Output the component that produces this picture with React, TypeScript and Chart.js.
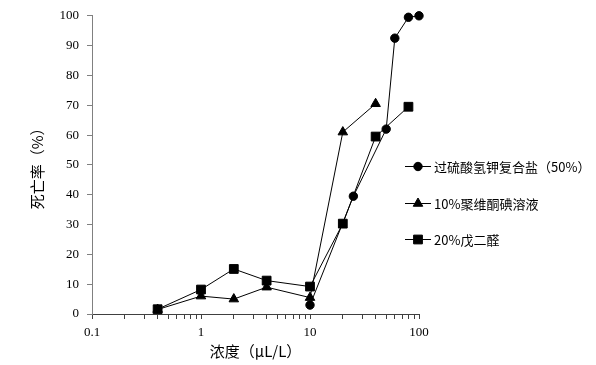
import { useEffect, useRef } from 'react';
import { Chart, registerables } from 'chart.js';

Chart.register(...registerables);

const seriesNames = ['过硫酸氢钾复合盐（50%）', '10%聚维酮碘溶液', '20%戊二醛'];
const circleX = [10, 25, 50, 60, 80, 100];
const circleY = [3, 39.5, 62, 92.5, 99.5, 100];
const triangleX = [0.4, 1, 2, 4, 10, 20, 40];
const triangleY = [1.5, 6, 5, 9, 5.5, 61, 70.5];
const squareX = [0.4, 1, 2, 4, 10, 20, 40, 80];
const squareY = [1.6, 8.2, 15.1, 11.2, 9.2, 30.3, 59.5, 69.5];
const xMajorTicks = [0.1, 1, 10, 100];
const yTicks = [0, 10, 20, 30, 40, 50, 60, 70, 80, 90, 100];
const xTitle = '浓度（μL/L）';
const yTitle = '死亡率（%）';

const toPoints = (xs: number[], ys: number[]) => xs.map((x, i) => ({ x, y: ys[i] }));

function drawMarker(ctx: CanvasRenderingContext2D, style: string, x: number, y: number, r: number) {
  ctx.beginPath();
  if (style === 'circle') {
    ctx.arc(x, y, r, 0, Math.PI * 2);
  } else if (style === 'triangle') {
    let rad = 0;
    ctx.moveTo(x + Math.sin(rad) * r, y - Math.cos(rad) * r);
    rad += (2 * Math.PI) / 3;
    ctx.lineTo(x + Math.sin(rad) * r, y - Math.cos(rad) * r);
    rad += (2 * Math.PI) / 3;
    ctx.lineTo(x + Math.sin(rad) * r, y - Math.cos(rad) * r);
    ctx.closePath();
  } else {
    const s = Math.SQRT1_2 * r;
    ctx.rect(x - s, y - s, 2 * s, 2 * s);
  }
  ctx.fill();
  ctx.stroke();
}

const sideLegend = {
  id: 'sideLegend',
  afterDatasetsDraw(chart: any) {
    const ctx = chart.ctx as CanvasRenderingContext2D;
    const lineStart = 405;
    const lineEnd = 431;
    const markerX = 418;
    const textX = 434;
    const rows = [166, 203, 239];
    ctx.save();
    chart.data.datasets.forEach((ds: any, i: number) => {
      const y = rows[i];
      ctx.strokeStyle = '#000';
      ctx.fillStyle = '#000';
      ctx.lineWidth = 1;
      ctx.beginPath();
      ctx.moveTo(lineStart, y + 0.5);
      ctx.lineTo(lineEnd, y + 0.5);
      ctx.stroke();
      drawMarker(ctx, ds.pointStyle, markerX, y + 0.5, ds.pointRadius);
      ctx.font = '13px "Noto Sans CJK SC"';
      ctx.textBaseline = 'middle';
      ctx.textAlign = 'left';
      ctx.fillText(ds.label, textX, y + 1);
    });
    ctx.restore();
  },
};

const whiteBg = {
  id: 'whiteBg',
  beforeDraw(chart: any) {
    const ctx = chart.ctx;
    ctx.save();
    ctx.fillStyle = '#fff';
    ctx.fillRect(0, 0, chart.width, chart.height);
    ctx.restore();
  },
};

const tickFont = { family: 'Liberation Serif, serif', size: 13 };

export default function App() {
  const ref = useRef<HTMLCanvasElement | null>(null);

  useEffect(() => {
    if (!ref.current) return;
    const common = {
      borderColor: '#000',
      backgroundColor: '#000',
      borderWidth: 1,
      pointBorderWidth: 1,
      showLine: true,
      tension: 0,
      clip: false as const,
    };
    const chart = new Chart(ref.current, {
      type: 'scatter',
      data: {
        datasets: [
          { ...common, label: seriesNames[0], data: toPoints(circleX, circleY), pointStyle: 'circle', pointRadius: 4.2, order: 2 },
          { ...common, label: seriesNames[1], data: toPoints(triangleX, triangleY), pointStyle: 'triangle', pointRadius: 5.5, order: 1 },
          { ...common, label: seriesNames[2], data: toPoints(squareX, squareY), pointStyle: 'rect', pointRadius: 6.2, order: 0 },
        ],
      },
      plugins: [whiteBg, sideLegend],
      options: {
        responsive: false,
        animation: false,
        events: [],
        layout: { padding: { top: 11, right: 177, left: 0, bottom: 0 } },
        plugins: {
          legend: { display: false },
          tooltip: { enabled: false },
        },
        scales: {
          x: {
            type: 'logarithmic',
            min: 0.1,
            max: 100,
            afterFit: (scale: any) => {
              scale.height = 51;
            },
            afterBuildTicks: (scale: any) => {
              const ticks: { value: number }[] = [];
              xMajorTicks.forEach((m, i) => {
                ticks.push({ value: m });
                if (i < xMajorTicks.length - 1) {
                  for (let k = 2; k <= 9; k++) ticks.push({ value: Number((m * k).toPrecision(3)) });
                }
              });
              scale.ticks = ticks;
            },
            border: { display: true, color: '#404040', width: 1 },
            grid: { drawOnChartArea: false, drawTicks: true, tickLength: 5, color: '#404040' },
            ticks: {
              autoSkip: false,
              maxRotation: 0,
              padding: 6,
              color: '#000',
              font: tickFont,
              callback: (v: any) => (xMajorTicks.includes(Number(v)) ? String(v) : ''),
            },
            title: {
              display: true,
              text: xTitle,
              color: '#000',
              font: { family: 'Noto Sans CJK SC', size: 15 },
              padding: { top: 0, bottom: 5 },
            },
          },
          y: {
            type: 'linear',
            min: 0,
            max: 100,
            afterFit: (scale: any) => {
              scale.width = 92;
            },
            afterBuildTicks: (scale: any) => {
              scale.ticks = yTicks.map((v) => ({ value: v }));
            },
            border: { display: true, color: '#808080', width: 1 },
            grid: { drawOnChartArea: false, drawTicks: true, tickLength: 5, color: '#808080' },
            ticks: {
              padding: 8,
              color: '#000',
              font: tickFont,
            },
            title: {
              display: true,
              text: yTitle,
              color: '#000',
              font: { family: 'Noto Sans CJK SC', size: 15 },
              padding: { top: 28, bottom: 0 },
            },
          },
        },
      },
    });
    return () => chart.destroy();
  }, []);

  return (
    <div style={{ position: 'absolute', left: 0, top: 0, width: 596, height: 365, background: '#fff' }}>
      <canvas ref={ref} width={596} height={365} />
    </div>
  );
}
